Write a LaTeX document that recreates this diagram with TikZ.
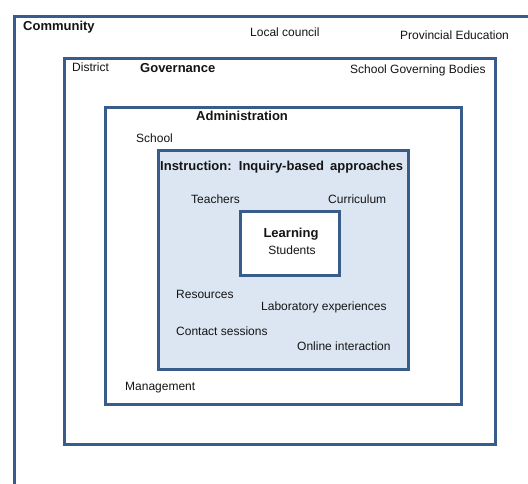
\documentclass[tikz,border=0pt]{standalone}
\usepackage{fontspec}
\setmainfont{Liberation Sans}
\usetikzlibrary{positioning}
\definecolor{LYblue}{RGB}{56,93,138}
\definecolor{LYfill}{RGB}{220,230,242}
\definecolor{LYtext}{RGB}{20,20,20}
\tikzset{
  layer/.style={draw=LYblue,line width=2.6pt,anchor=north west,inner sep=0pt},
  title/.style={anchor=west,inner sep=0pt,text=LYtext,font=\fontsize{13}{15}\selectfont\bfseries},
  item/.style={anchor=west,inner sep=0pt,text=LYtext,font=\fontsize{12}{14}\selectfont}
}

\begin{document}
\begin{tikzpicture}[x=1pt,y=-1pt]
  \useasboundingbox[fill=white] (0,0) rectangle (528,483);
  \clip (0,0) rectangle (528,483);
  % nested layers
  \node[layer,minimum width=560pt,minimum height=520pt] (comm) at (13,15) {};
  \node[layer,fill=white,minimum width=431pt,minimum height=386pt] (gov) at (63,57) {};
  \node[layer,fill=white,minimum width=356pt,minimum height=297pt] (adm) at (104,106) {};
  \node[layer,fill=LYfill,minimum width=250pt,minimum height=219pt] (instr) at (157,149) {};
  \node[layer,fill=white,minimum width=99pt,minimum height=64pt] (learn) at (239,210) {};
  % community
  \node[title] (commT) at (23,27) {Community};
  \node[item] (council) at (250,32) {Local council};
  \node[item] (prov) at (400,35) {Provincial Education};
  % governance
  \node[item] (district) at (72,67) {District};
  \node[title] (govT) at (140,68) {Governance};
  \node[item] (sgb) at (350,70) {School Governing Bodies};
  % administration
  \node[title] (admT) at (196,116) {Administration};
  \node[item] (school) at (136,138) {School};
  \node[item] (mgmt) at (125,388) {Management};
  % instruction
  \node[title] (instrT) at (160,167) {\spaceskip=6pt\relax Instruction: Inquiry-based approaches};
  \node[item] (teach) at (191,199) {Teachers};
  \node[item] (curr) at (328,199) {Curriculum};
  \node[item] (res) at (176,294) {Resources};
  \node[item] (lab) at (261,307) {Laboratory experiences};
  \node[item] (contact) at (176,331) {Contact sessions};
  \node[item] (online) at (297,346) {Online interaction};
  % learning
  \node[title,anchor=center] (learnT) at (291,234) {Learning};
  \node[item,anchor=center] (stud) at (292,250) {Students};
\end{tikzpicture}
\end{document}
